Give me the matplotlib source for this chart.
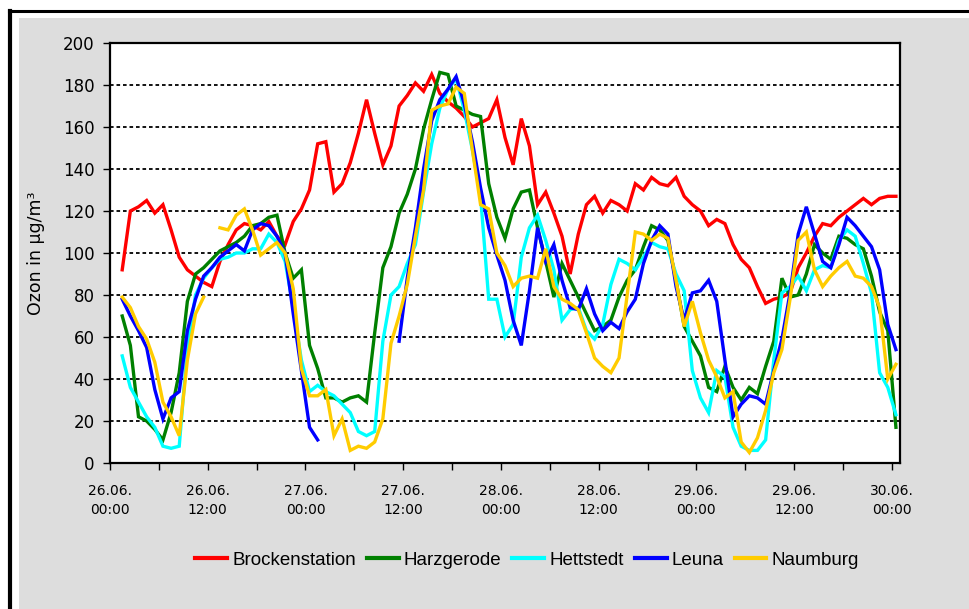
import numpy as np
import matplotlib
matplotlib.use("Agg")
import matplotlib.pyplot as plt
from matplotlib.patches import Rectangle
from matplotlib.lines import Line2D

nan = np.nan

# Hourly ozone concentrations (µg/m³), 26.06. 01:00 – 30.06. 00:00
brockenstation = [92, 120, 122, 125, 119, 123, 111, 98, 92, 89, 86, 84,
                  96, 104, 111, 114, 113, 111, 115, 108, 104, 115, 121, 130,
                  152, 153, 129, 133, 143, 157, 173, 157, 142, 151, 170, 175,
                  181, 177, 185, 176, 172, 169, 165, 160, 162, 164, 173, 155,
                  142, 164, 151, 123, 129, 119, 108, 90, 109, 123, 127, 119,
                  125, 123, 120, 133, 130, 136, 133, 132, 136, 127, 123, 120,
                  113, 116, 114, 104, 97, 93, 84, 76, 78, 79, 81, 93,
                  100, 108, 114, 113, 117, 120, 123, 126, 123, 126, 127, 127]

harzgerode = [70, 56, 22, 20, 16, 11, 24, 43, 77, 90, 93, 97,
              101, 103, 105, 108, 113, 114, 117, 118, 100, 88, 92, 56,
              45, 31, 31, 29, 31, 32, 29, 62, 93, 103, 119, 128,
              140, 159, 173, 186, 185, 170, 168, 166, 165, 133, 117, 107,
              121, 129, 130, 112, 96, 79, 95, 87, 79, 71, 63, 65,
              68, 79, 87, 92, 103, 113, 111, 106, 87, 65, 58, 51,
              36, 34, 46, 36, 30, 36, 33, 46, 58, 88, 79, 80,
              90, 104, 100, 97, 108, 107, 104, 102, 89, 72, 63, 17]

hettstedt = [51, 36, 29, 22, 17, 8, 7, 8, 55, 80, 88, 93,
             97, 98, 100, 100, 102, 102, 109, 105, 96, 74, 49, 34,
             37, 34, 32, 28, 24, 15, 13, 15, 58, 80, 84, 95,
             104, 129, 152, 169, 178, 183, 168, 149, 127, 78, 78, 60,
             66, 98, 112, 118, 106, 92, 68, 73, 74, 63, 59, 66,
             85, 97, 95, 92, 98, 105, 103, 102, 90, 82, 44, 31,
             24, 44, 41, 17, 8, 6, 6, 11, 49, 81, 84, 89,
             82, 92, 94, 93, 106, 111, 108, 95, 81, 43, 36, 23]

leuna = [78, 70, 63, 55, 35, 21, 31, 34, 63, 78, 89, 93,
         98, 101, 104, 101, 111, 114, 113, 108, 100, 71, 44, 17,
         11, nan, nan, nan, nan, nan, nan, nan, nan, nan, 58, 88,
         112, 140, 163, 173, 178, 184, 171, 153, 131, 112, 99, 87,
         68, 56, 82, 112, 96, 104, 87, 74, 73, 83, 71, 63,
         67, 64, 72, 78, 95, 106, 113, 109, 84, 68, 81, 82,
         87, 77, 49, 22, 28, 32, 31, 28, 44, 59, 81, 109,
         122, 109, 96, 93, 104, 117, 113, 108, 103, 92, 66, 54]

naumburg = [79, 74, 65, 59, 48, 29, 22, 13, 49, 71, 79, nan,
            112, 111, 118, 121, 111, 99, 102, 105, 100, 83, 45, 32,
            32, 35, 13, 21, 6, 8, 7, 10, 21, 57, 70, 85,
            108, 130, 168, 170, 171, 179, 176, 149, 123, 121, 100, 94,
            84, 88, 89, 88, 102, 84, 78, 76, 73, 62, 50, 46,
            43, 50, 80, 110, 109, 106, 109, 107, 87, 65, 77, 62,
            49, 41, 31, 34, 10, 5, 12, 25, 43, 54, 78, 106,
            110, 92, 84, 89, 93, 96, 89, 88, 84, 74, 40, 47]

station_names = ["Brockenstation", "Harzgerode", "Hettstedt", "Leuna", "Naumburg"]
station_colors = ["#FF0000", "#008000", "#00FFFF", "#0000FF", "#FFCC00"]

tick_labels = ["26.06.\n00:00", "26.06.\n12:00", "27.06.\n00:00", "27.06.\n12:00",
               "28.06.\n00:00", "28.06.\n12:00", "29.06.\n00:00", "29.06.\n12:00",
               "30.06.\n00:00"]

series = [brockenstation, harzgerode, hettstedt, leuna, naumburg]
hours = np.arange(1, len(brockenstation) + 1) + 0.5

fig = plt.figure(figsize=(9.69, 6.09), dpi=100, facecolor="white")

# grey chart area with black frame on top and left
fig.patches.append(Rectangle((19 / 969, 0), 1, (609 - 18) / 609,
                             transform=fig.transFigure, facecolor="#DDDDDD",
                             edgecolor="none", zorder=-10))
fig.lines.append(Line2D([9 / 969, 1], [1 - 11 / 609] * 2, transform=fig.transFigure,
                        color="black", lw=2.2, zorder=-9))
fig.lines.append(Line2D([10 / 969] * 2, [0, 1 - 11 / 609], transform=fig.transFigure,
                        color="black", lw=3, zorder=-9))

ax = fig.add_axes([110 / 969, 1 - 463 / 609, 790 / 969, 420 / 609], zorder=1)
ax.set_facecolor("white")

for yv in range(20, 200, 20):
    ax.axhline(yv, color="black", lw=1.3, linestyle=(0, (2, 1.6)), zorder=1)

for vals, name, col in zip(series, station_names, station_colors):
    ax.plot(hours, np.array(vals, dtype=float), color=col, lw=2.4,
            label=name, zorder=3, solid_joinstyle="miter")

ax.set_xlim(0, 97)
ax.set_ylim(0, 200)
ax.set_yticks(np.arange(0, 201, 20))
ax.set_xticks(np.arange(0, 97, 12))
ax.set_xticklabels(tick_labels, fontsize=10, linespacing=1.45, family="DejaVu Sans")
ax.set_xticks(np.arange(6, 97, 12), minor=True)
ax.tick_params(axis="y", labelsize=12, length=5, width=1, direction="out", pad=6)
ax.tick_params(axis="x", which="both", length=5, width=1, direction="out", pad=10)
for sp in ax.spines.values():
    sp.set_linewidth(1.6)
    sp.set_color("black")

ax.set_ylabel("Ozon in µg/m³", fontsize=12.5, labelpad=13)

leg = fig.legend(loc="center", bbox_to_anchor=(527 / 969, 1 - 560 / 609), ncol=5,
                 frameon=False, handlelength=1.7, handletextpad=0.25,
                 columnspacing=0.6,
                 prop={"family": ["Liberation Sans", "DejaVu Sans"], "size": 13.5})
for h in leg.get_lines():
    h.set_linewidth(3)

fig.savefig("out.png", dpi=100, facecolor=fig.get_facecolor())
